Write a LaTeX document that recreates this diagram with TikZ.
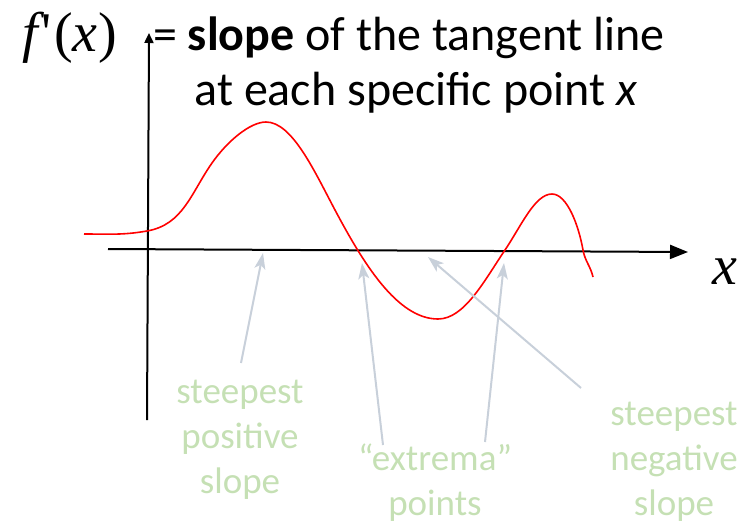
\documentclass[tikz,border=0pt]{standalone}
\usepackage{fontspec}
\setmainfont{Carlito}
\newfontfamily\timesf{Liberation Serif}
\usetikzlibrary{arrows.meta}
\definecolor{lblgreen}{RGB}{197,224,180}
\definecolor{arrgray}{RGB}{200,208,218}
\begin{document}
\begin{tikzpicture}[x=1pt,y=-1pt,
  axis/.style={line width=2pt, black},
  pointer/.style={arrgray, line width=2pt, -{Stealth[length=16pt,width=11pt,inset=4pt]}},
  lbl/.style={text=lblgreen, font=\fontsize{37}{45}\selectfont, align=center, inner sep=0pt},
  title/.style={font=\fontsize{48}{56}\selectfont, inner sep=0pt},
  mathlbl/.style={font=\timesf\fontsize{56}{60}\selectfont, inner sep=0pt}]
\useasboundingbox (0,0) rectangle (744,525);
% axes
\coordinate (xs) at (108,249);
\coordinate (xe) at (688,252);
\coordinate (ys) at (147,420);
\coordinate (ye) at (149,33);
\draw[axis, -{Triangle[length=18pt,width=14pt]}] (xs) -- (xe);
\draw[axis, -{Triangle[length=10pt,width=9pt]}] (ys) -- (ye);
% curve
\draw[red, line width=1.6pt]
  (84,234) to[out=0,in=190] (147,231)
  to[out=10,in=235] (212,163)
  to[out=55,in=180,in looseness=0.6] (266,122)
  to[out=0,in=118,out looseness=0.6] (335,210)
  to[out=-62,in=180,in looseness=0.7] (438,319)
  to[out=0,in=236,out looseness=0.7] (505,250)
  to[out=56,in=180,in looseness=0.6] (552,194)
  to[out=0,in=100,out looseness=0.6] (583,250)
  to[out=-80,in=103] (593,277);
% labels
\node[mathlbl] (fp) at (70,38) {\itshape f\kern3pt\upshape'\kern3pt(\itshape x\upshape\kern1pt)};
\node[mathlbl] (xl) at (725,272) {\itshape x};
\node[title, anchor=base west] (t1) at (153,50) {= \textbf{slope} of the tangent line};
\node[title, anchor=base] (t2) at (416,105) {at each specific point \textit{x}};
\node[lbl] (l1) at (240,440) {steepest\\positive\\slope};
\node[lbl] (l2) at (435,483) {“extrema”\\points};
\node[lbl] (l3) at (674,462) {steepest\\negative\\slope};
% pointers
\coordinate (a1) at (241,363); \coordinate (b1) at (263,253);
\coordinate (a2) at (383,445); \coordinate (b2) at (362,263);
\coordinate (a3) at (485,442); \coordinate (b3) at (504,263);
\coordinate (a4) at (581,388); \coordinate (b4) at (428,257);
\draw[pointer] (a1) -- (b1);
\draw[pointer] (a2) -- (b2);
\draw[pointer] (a3) -- (b3);
\draw[pointer] (a4) -- (b4);
\end{tikzpicture}
\end{document}
